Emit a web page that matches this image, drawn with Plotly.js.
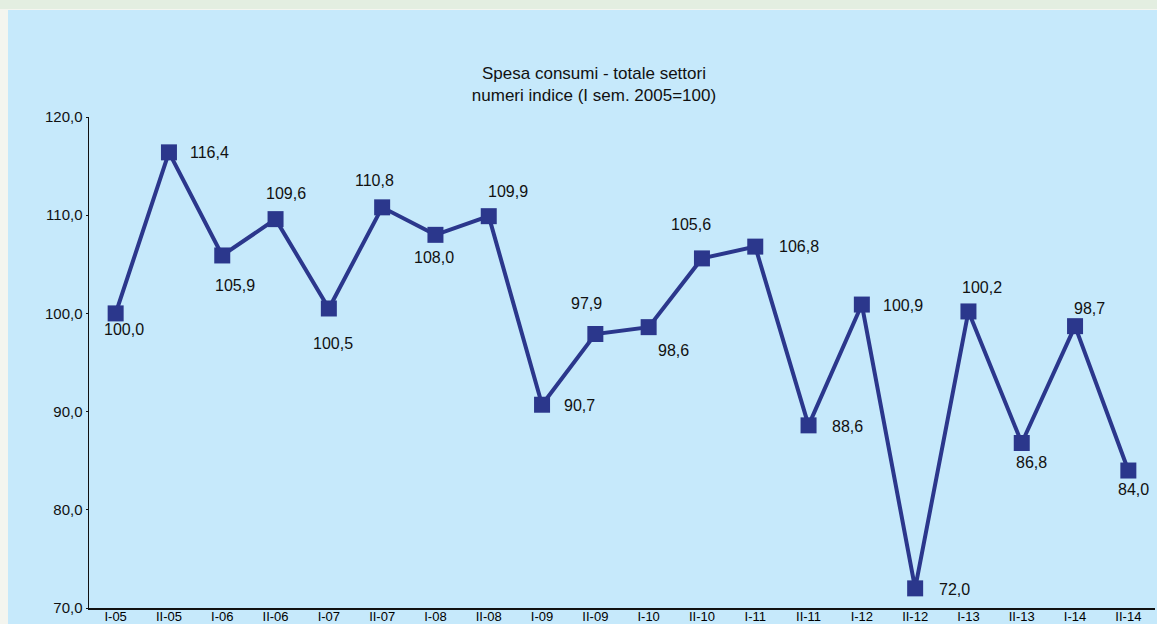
<!DOCTYPE html>
<html>
<head>
<meta charset="utf-8">
<script src="https://cdn.plot.ly/plotly-3.0.1.min.js"></script>
<style>
  html, body { margin: 0; padding: 0; width: 1157px; height: 624px; overflow: hidden; background: #f4f5ef; }
  #top { position: absolute; left: 0; top: 0; width: 1157px; height: 9px; background: #e3eee1; }
  #chart { position: absolute; left: 8px; top: 10px; width: 1149px; height: 614px; }
</style>
</head>
<body>
<div id="top"></div>
<div id="chart"></div>
<script>
const categories = ["I-05","II-05","I-06","II-06","I-07","II-07","I-08","II-08","I-09","II-09",
                    "I-10","II-10","I-11","II-11","I-12","II-12","I-13","II-13","I-14","II-14"];
const values = [100.0,116.4,105.9,109.6,100.5,110.8,108.0,109.9,90.7,97.9,
                98.6,105.6,106.8,88.6,100.9,72.0,100.2,86.8,98.7,84.0];
const yTicks = [70,80,90,100,110,120];

// label offsets (pixels, right / down) relative to each marker
const labelDX = [8,41,13,10,4,-8,-1,19,37,-9,25,-11,44,39,41,39,14,10,14,5];
const labelDY = [16,0,30,-26,35,-27,23,-25,1,-31,23,-34,0,1,1,1,-24,19,-18,19];

const FONT = '"Liberation Sans Narrow", "Liberation Sans", Arial, sans-serif';
const navy = '#2b378c';

const fmt = v => v.toFixed(1).replace('.', ',');

const annotations = values.map((v, i) => ({
  x: categories[i], y: v, xref: 'x', yref: 'y',
  text: fmt(v), showarrow: false,
  xshift: labelDX[i], yshift: -labelDY[i],
  font: {family: FONT, size: 16, color: '#111'}
}));

const trace = {
  x: categories, y: values, type: 'scatter', mode: 'lines+markers',
  line: {color: navy, width: 4},
  marker: {symbol: 'square', size: 16, color: navy},
  hoverinfo: 'x+y'
};

const layout = {
  width: 1149, height: 614,
  margin: {l: 81, r: 2, t: 107, b: 16},
  paper_bgcolor: '#c6e9fb', plot_bgcolor: '#c6e9fb',
  separators: ',.',
  showlegend: false,
  font: {family: FONT, size: 16, color: '#111'},
  title: {
    text: 'Spesa consumi - totale settori<br>numeri indice (I sem. 2005=100)',
    x: 0.510, xanchor: 'center', xref: 'container',
    y: 0.888, yanchor: 'middle', yref: 'container',
    font: {family: FONT, size: 17, color: '#111'}
  },
  xaxis: {
    type: 'category', range: [-0.5, 19.5],
    showline: true, linecolor: '#111', linewidth: 2,
    showgrid: false, zeroline: false, ticks: '',
    ticklabelstandoff: -5,
    tickfont: {family: FONT, size: 13, color: '#000'},
    fixedrange: true
  },
  yaxis: {
    range: [70, 120], tickvals: yTicks, tickformat: '.1f',
    showline: true, linecolor: '#111', linewidth: 1.5,
    showgrid: false, zeroline: false, ticks: 'outside', ticklen: 2, tickcolor: '#111',
    tickfont: {family: FONT, size: 15, color: '#111'},
    fixedrange: true
  },
  annotations: annotations
};

Plotly.newPlot('chart', [trace], layout, {displayModeBar: false, staticPlot: true});
</script>
</body>
</html>
